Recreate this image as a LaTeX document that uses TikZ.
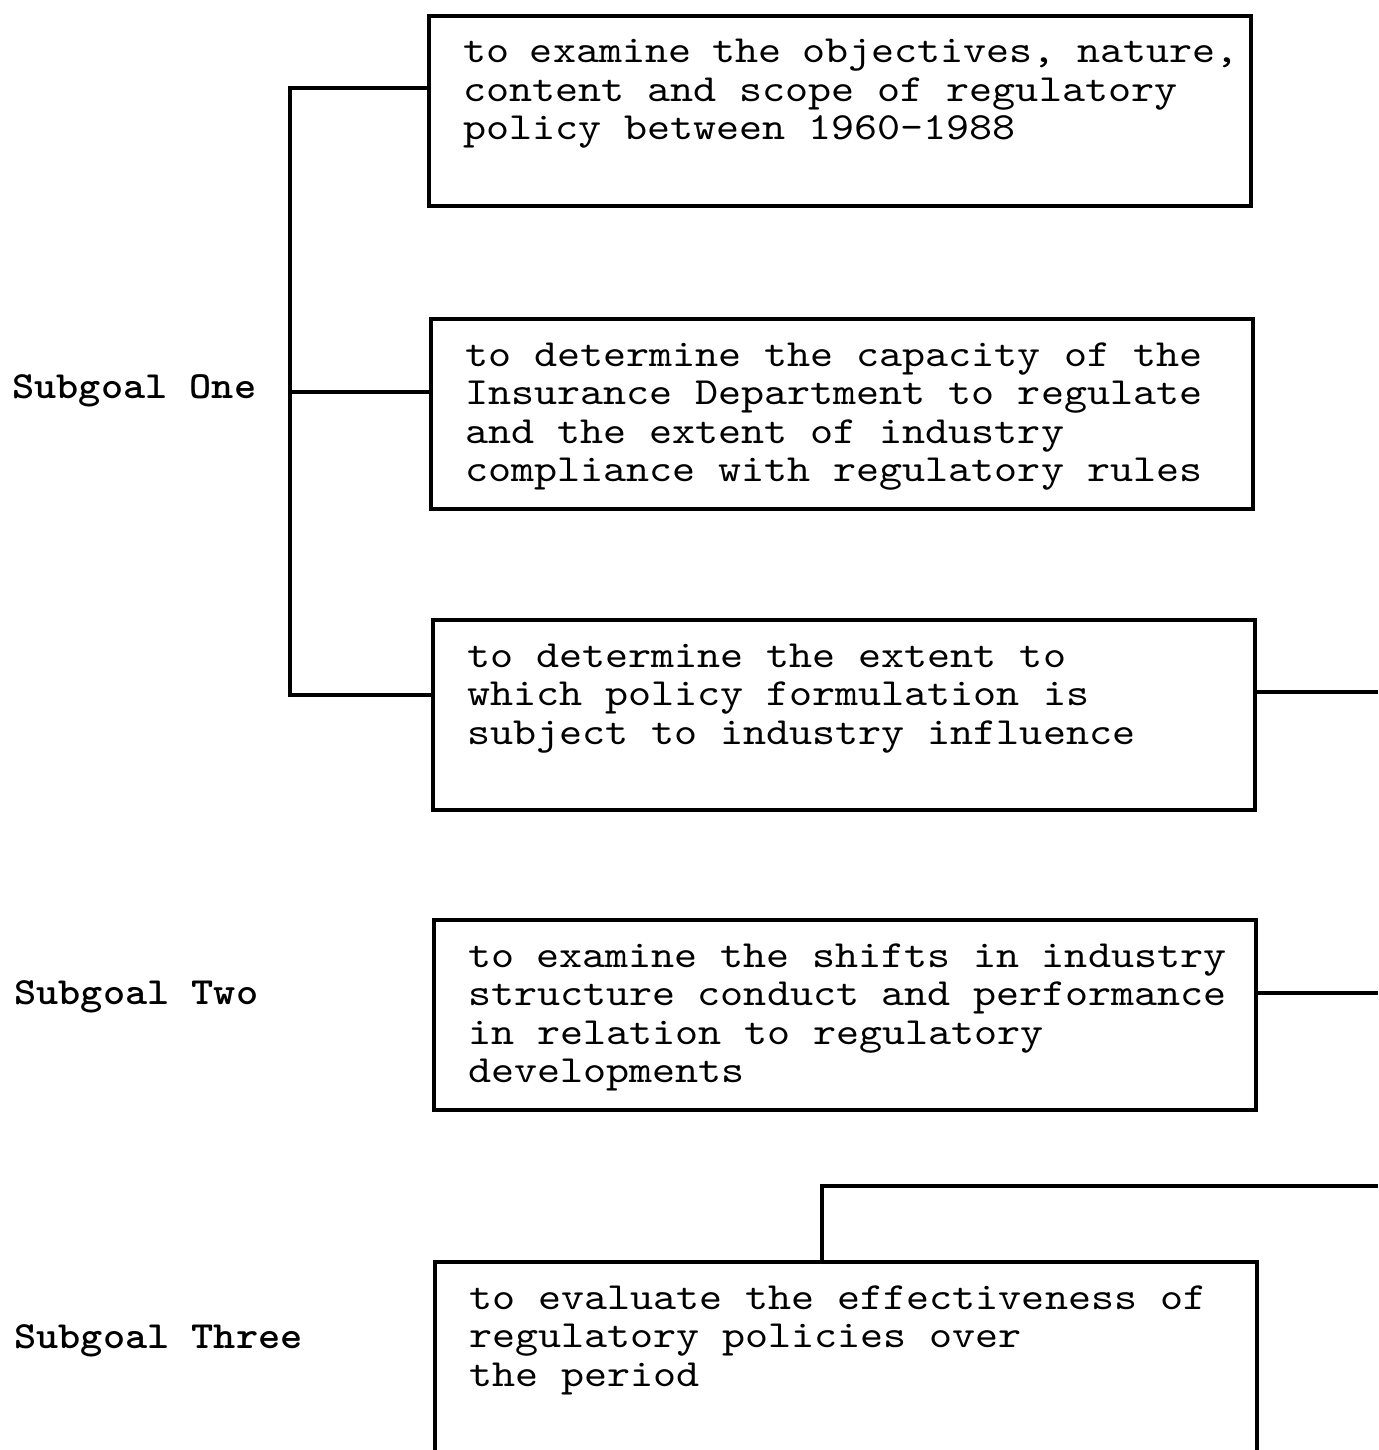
\documentclass[tikz,border=0pt]{standalone}
\usepackage{fontspec}
\newfontfamily\goalfont[FakeStretch=1.143]{lmmono10-regular.otf}
\newfontfamily\subgoalfont[FakeStretch=1.1]{lmmonolt10-bold.otf}

\begin{document}
\begin{tikzpicture}[x=0.5pt,y=-0.5pt,
  goalbox/.style={rectangle, draw, line width=2pt, anchor=north west,
    inner xsep=17pt, inner ysep=0pt, text width=377pt, align=left,
    text height=23.5pt, text depth=71.5pt,
    font=\goalfont\fontsize{19.2pt}{19.25pt}\selectfont,
    execute at begin node={\spaceskip=0pt \xspaceskip=0pt \rightskip=0pt minus 2em}},
  subgoal/.style={anchor=base west, inner sep=0pt,
    font=\subgoalfont\fontsize{19.2pt}{19.25pt}\selectfont},
  link/.style={line width=1.6pt}]

\useasboundingbox (0,0) rectangle (1378,1450);

% Boxes
\draw (427,14) node [goalbox] (examinePolicy) {to examine the objectives, nature,\\content and scope of regulatory\\policy between 1960-1988};
\draw (429,317) node [goalbox] (deptCapacity) {to determine the capacity of the\\Insurance Department to regulate\\and the extent of industry\\compliance with regulatory rules};
\draw (431,618) node [goalbox] (industryInfluence) {to determine the extent to\\which policy formulation is\\subject to industry influence};
\draw (432,918) node [goalbox] (industryShifts) {to examine the shifts in industry\\structure conduct and performance\\in relation to regulatory\\developments};
\draw (433,1260) node [goalbox] (effectiveness) {to evaluate the effectiveness of\\regulatory policies over\\the period};

% Subgoals
\draw (12,398) node [subgoal] (subgoalOne) {Subgoal One};
\draw (14,1004) node [subgoal] (subgoalTwo) {Subgoal Two};
\draw (14,1348) node [subgoal] (subgoalThree) {Subgoal Three};

% Joints
\coordinate (spineTop) at (290,88);
\coordinate (spineMid) at (290,392);
\coordinate (spineBot) at (290,695);
\coordinate (outOne) at (1378,692);
\coordinate (outTwo) at (1378,993);
\coordinate (riseTop) at (822,1186);
\coordinate (outThree) at (1378,1186);

% Lines
\draw [link] (examinePolicy.west |- spineTop) -- (spineTop) -- (spineBot) -- (industryInfluence.west |- spineBot);
\draw [link] (spineMid) -- (deptCapacity.west |- spineMid);
\draw [link] (industryInfluence.east |- outOne) -- (outOne);
\draw [link] (industryShifts.east |- outTwo) -- (outTwo);
\draw [link] (effectiveness.north -| riseTop) -- (riseTop) -- (outThree);
\end{tikzpicture}
\end{document}
